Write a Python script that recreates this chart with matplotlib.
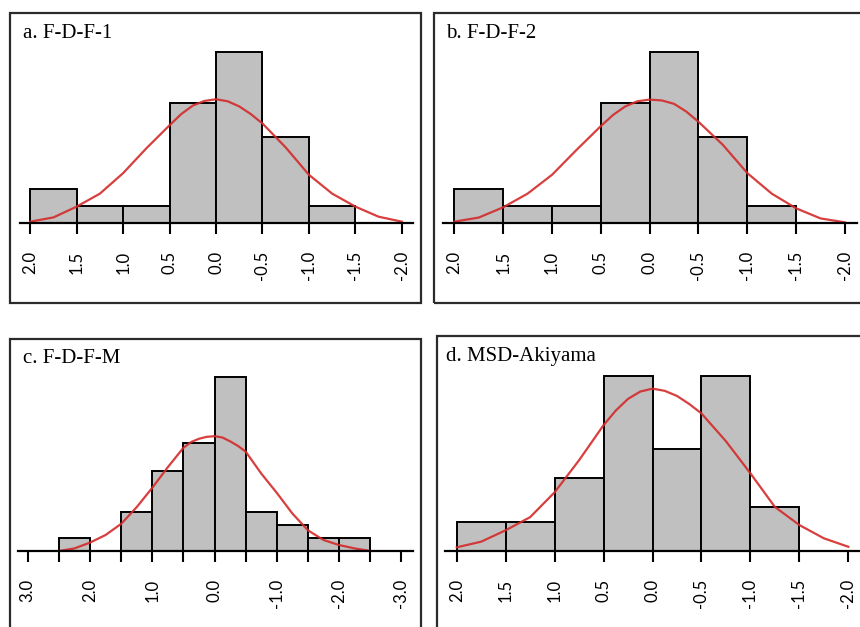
import matplotlib
matplotlib.use('Agg')
import matplotlib.pyplot as plt
from matplotlib.patches import Rectangle

plt.rcParams['font.family'] = ['Lato', 'DejaVu Sans']

W, H = 860, 627

# panel titles
titles = ['a. F-D-F-1', 'b. F-D-F-2', 'c. F-D-F-M', 'd. MSD-Akiyama']

# histogram bin edges (left to right as drawn, x axis reversed) and counts
edges_a = [2.0, 1.5, 1.0, 0.5, 0.0, -0.5, -1.0, -1.5]
counts_a = [2, 1, 1, 7, 10, 5, 1]
edges_b = [2.0, 1.5, 1.0, 0.5, 0.0, -0.5, -1.0, -1.5]
counts_b = [2, 1, 1, 7, 10, 5, 1]
edges_c = [2.5, 2.0, 1.5, 1.0, 0.5, 0.0, -0.5, -1.0, -1.5, -2.0, -2.5]
counts_c = [1, 0, 3, 6.2, 8.35, 13.5, 3, 2, 1, 1]
edges_d = [2.0, 1.5, 1.0, 0.5, 0.0, -0.5, -1.0, -1.5]
counts_d = [2, 2, 5, 12, 7, 12, 3]

# red fitted curves
curve_x_ab = [2.0, 1.75, 1.5, 1.25, 1.0, 0.75, 0.5, 0.375, 0.25, 0.125, 0.0,
              -0.125, -0.25, -0.375, -0.5, -0.75, -1.0, -1.25, -1.5, -1.75, -2.0]
curve_a = [0.06, 0.31, 0.94, 1.7, 2.9, 4.35, 5.7, 6.35, 6.85, 7.12, 7.22,
           7.1, 6.8, 6.35, 5.8, 4.4, 2.8, 1.7, 0.94, 0.35, 0.06]
curve_b = [0.06, 0.3, 0.9, 1.7, 2.8, 4.25, 5.65, 6.3, 6.8, 7.1, 7.2,
           7.15, 6.95, 6.5, 5.9, 4.55, 2.9, 1.7, 0.84, 0.25, 0.02]
curve_d = [0.23, 0.62, 1.4, 2.3, 4.0, 6.2, 8.6, 9.6, 10.4, 10.9, 11.1,
           10.95, 10.6, 10.05, 9.4, 7.5, 5.3, 3.0, 1.76, 0.85, 0.27]
curve_x_c = [2.5, 2.25, 2.0, 1.75, 1.5, 1.25, 1.0, 0.75, 0.5, 0.375, 0.25, 0.125, 0.0,
             -0.125, -0.25, -0.375, -0.5, -0.75, -1.0, -1.25, -1.5, -1.75, -2.0,
             -2.25, -2.5]
curve_c = [0.0, 0.2, 0.65, 1.24, 2.1, 3.4, 4.9, 6.5, 8.0, 8.45, 8.7, 8.85, 8.9,
           8.8, 8.5, 8.15, 7.7, 6.0, 4.5, 2.9, 1.6, 0.85, 0.46, 0.2, 0.0]

ticks_ab = [2.0, 1.5, 1.0, 0.5, 0.0, -0.5, -1.0, -1.5, -2.0]
ticks_c = [3.0, 2.5, 2.0, 1.5, 1.0, 0.5, 0.0, -0.5, -1.0, -1.5, -2.0, -2.5, -3.0]
labels_ab = ['2.0', '1.5', '1.0', '0.5', '0.0', '-0.5', '-1.0', '-1.5', '-2.0']
labels_c = ['3.0', '', '2.0', '', '1.0', '', '0.0', '', '-1.0', '', '-2.0', '', '-3.0']

# layout in pixels: axis line left/right, baseline, top, x limits, pixels per count
panels = [
    dict(box=(20, 413, 222.7, 40), xlim=(2.11, -2.12), unit=17.1,
         edges=edges_a, counts=counts_a, cx=curve_x_ab, cy=curve_a,
         ticks=ticks_ab, labels=labels_ab, title_xy=(23, 38.3),
         frame=(10, 13.3, 420.7, 302.7)),
    dict(box=(443.3, 856.7, 222.7, 40), xlim=(2.113, -2.12), unit=17.1,
         edges=edges_b, counts=counts_b, cx=curve_x_ab, cy=curve_b,
         ticks=ticks_ab, labels=labels_ab, title_xy=(446, 38.3),
         frame=(434, 13.3, 880, 302.7)),
    dict(box=(17.7, 413.3, 551, 370), xlim=(3.16, -3.19), unit=12.9,
         edges=edges_c, counts=counts_c, cx=curve_x_c, cy=curve_c,
         ticks=ticks_c, labels=labels_c, title_xy=(22.7, 363.3),
         frame=(9.5, 339, 420.7, 650)),
    dict(box=(445, 870, 550.7, 370), xlim=(2.12, -2.222), unit=14.6,
         edges=edges_d, counts=counts_d, cx=curve_x_ab, cy=curve_d,
         ticks=ticks_ab, labels=labels_ab, title_xy=(446, 360.7),
         frame=(436.7, 335.7, 880, 650)),
]

fig = plt.figure(figsize=(W / 100, H / 100), dpi=100)

for p, title in zip(panels, titles):
    left, right, base, top = p['box']
    ax = fig.add_axes([left / W, 1 - base / H, (right - left) / W, (base - top) / H])
    ax.set_xlim(*p['xlim'])
    ax.set_ylim(0, (base - top) / p['unit'])

    ax.bar(p['edges'][1:], p['counts'], width=0.5, align='edge',
           color='#c0c0c0', edgecolor='black', linewidth=1.4, zorder=2)
    ax.plot(p['cx'], p['cy'], color='#d42a2a', linewidth=1.6, alpha=0.9,
            solid_joinstyle='round', zorder=3)

    for side in ['left', 'top', 'right']:
        ax.spines[side].set_visible(False)
    ax.spines['bottom'].set_linewidth(1.6)
    ax.spines['bottom'].set_zorder(4)
    ax.set_yticks([])
    ax.set_xticks(p['ticks'])
    ax.set_xticklabels(p['labels'])
    ax.tick_params(axis='x', direction='out', length=8, width=1.5, pad=12,
                   labelsize=12, labelrotation=90)
    ax.patch.set_visible(False)

    fx0, fy0, fx1, fy1 = p['frame']
    fig.add_artist(Rectangle((fx0 / W, 1 - fy1 / H), (fx1 - fx0) / W, (fy1 - fy0) / H,
                             transform=fig.transFigure, fill=False,
                             edgecolor='#2b2b2b', linewidth=1.6))
    tx, ty = p['title_xy']
    fig.text(tx / W, 1 - ty / H, title, ha='left', va='baseline',
             family='Liberation Serif', fontsize=15)

fig.savefig('out.png', dpi=100)
